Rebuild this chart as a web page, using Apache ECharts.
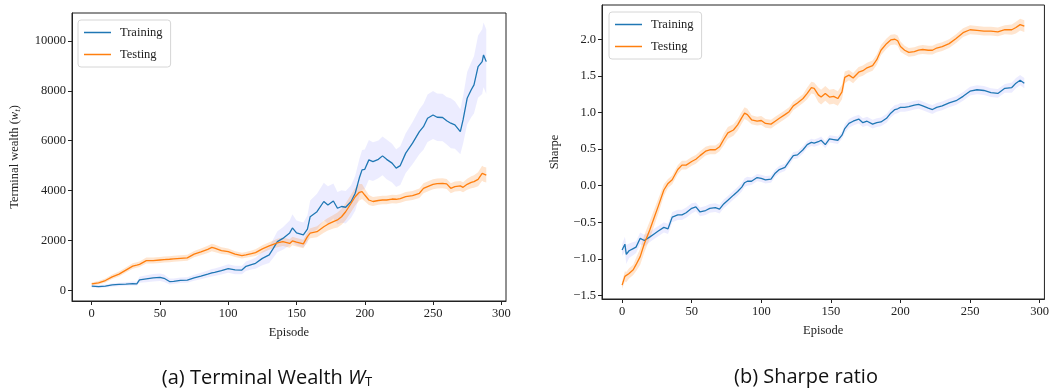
<!DOCTYPE html>
<html>
<head>
<meta charset="utf-8">
<script src="https://cdn.jsdelivr.net/npm/echarts@6/dist/echarts.min.js"></script>
<style>
  html, body { margin: 0; padding: 0; background: #fff; }
  #chart { width: 1052px; height: 392px; }
</style>
</head>
<body>
<div id="chart"></div>
<script>
// ---- (a) terminal wealth ----
const wealthEpisodes = [0, 5, 10, 15, 20, 25, 30, 33, 35, 40, 45, 50, 53, 57, 60, 65, 70, 75, 80, 85, 88, 90, 95, 100, 105, 110, 113, 117, 120, 125, 130, 133, 136, 140, 145, 147, 150, 155, 158, 160, 165, 170, 173, 177, 180, 183, 186, 190, 193, 196, 198, 200, 203, 206, 210, 213, 216, 220, 223, 226, 230, 235, 240, 243, 246, 250, 253, 257, 260, 263, 266, 270, 272, 275, 278, 280, 283, 286, 287, 289];
const wealthTrain = [170, 150, 170, 215, 235, 250, 270, 260, 420, 460, 500, 520, 480, 350, 360, 400, 410, 500, 570, 650, 700, 720, 790, 870, 815, 810, 960, 1030, 1080, 1280, 1420, 1680, 1950, 2080, 2300, 2500, 2300, 2220, 2450, 2950, 3150, 3560, 3420, 3580, 3290, 3360, 3330, 3560, 3890, 4500, 4830, 4850, 5230, 5160, 5250, 5390, 5250, 5100, 4900, 5000, 5500, 5900, 6360, 6560, 6900, 7030, 6940, 6930, 6800, 6700, 6630, 6360, 6830, 7700, 8040, 8240, 8970, 9170, 9440, 9170];
const wealthTrainSd = [60, 60, 60, 70, 70, 70, 80, 80, 120, 140, 150, 150, 150, 120, 110, 110, 110, 120, 130, 140, 150, 150, 160, 170, 170, 170, 190, 200, 220, 280, 330, 380, 420, 450, 500, 550, 500, 500, 550, 650, 720, 750, 750, 700, 650, 650, 650, 650, 700, 750, 800, 800, 800, 780, 760, 780, 800, 780, 760, 780, 800, 850, 900, 920, 950, 960, 950, 950, 950, 1000, 950, 900, 950, 1050, 1100, 1150, 1250, 1300, 1300, 1300];
const wealthTest = [254, 300, 390, 540, 650, 810, 970, 1010, 1040, 1190, 1190, 1215, 1230, 1245, 1260, 1280, 1300, 1450, 1540, 1640, 1720, 1690, 1590, 1550, 1450, 1390, 1420, 1470, 1510, 1660, 1780, 1840, 1900, 1950, 1880, 1980, 1930, 1860, 2150, 2290, 2350, 2550, 2650, 2750, 2820, 2950, 3150, 3490, 3750, 3930, 3960, 3820, 3620, 3560, 3600, 3620, 3620, 3660, 3650, 3680, 3760, 3800, 3890, 4090, 4160, 4250, 4280, 4290, 4265, 4090, 4160, 4185, 4130, 4250, 4330, 4360, 4450, 4690, 4650, 4620];
const wealthTestSd = [60, 70, 80, 90, 100, 100, 110, 110, 110, 120, 120, 120, 120, 120, 120, 120, 120, 130, 140, 150, 150, 150, 140, 130, 120, 120, 120, 130, 140, 150, 150, 160, 170, 170, 170, 170, 170, 170, 180, 200, 220, 240, 250, 270, 300, 320, 340, 350, 350, 330, 300, 250, 200, 180, 170, 170, 170, 170, 170, 170, 180, 180, 190, 200, 200, 200, 200, 200, 200, 200, 200, 200, 200, 220, 240, 250, 280, 300, 300, 300];
const wealthTicks = [0, 2000, 4000, 6000, 8000, 10000];

// ---- (b) sharpe ratio ----
const sharpeEpisodes = [0, 2, 3, 5, 8, 10, 13, 16, 20, 23, 26, 30, 33, 36, 40, 43, 46, 50, 53, 56, 60, 63, 67, 70, 73, 76, 80, 83, 86, 88, 90, 93, 97, 100, 103, 107, 110, 113, 117, 120, 123, 126, 130, 133, 136, 138, 141, 143, 146, 149, 152, 155, 158, 160, 163, 166, 170, 173, 176, 180, 183, 186, 190, 193, 196, 198, 200, 203, 206, 210, 213, 216, 220, 223, 226, 230, 235, 240, 245, 250, 255, 260, 265, 270, 275, 280, 283, 286, 289];
const sharpeTrain = [-0.88, -0.80, -0.94, -0.89, -0.86, -0.84, -0.72, -0.75, -0.70, -0.66, -0.62, -0.57, -0.59, -0.43, -0.40, -0.40, -0.37, -0.31, -0.29, -0.36, -0.34, -0.31, -0.30, -0.32, -0.25, -0.20, -0.13, -0.08, -0.02, 0.04, 0.06, 0.06, 0.11, 0.10, 0.08, 0.09, 0.17, 0.22, 0.25, 0.33, 0.41, 0.42, 0.49, 0.56, 0.59, 0.58, 0.60, 0.62, 0.56, 0.64, 0.63, 0.62, 0.69, 0.78, 0.85, 0.88, 0.91, 0.86, 0.88, 0.84, 0.86, 0.87, 0.92, 0.99, 1.04, 1.05, 1.07, 1.07, 1.08, 1.10, 1.11, 1.09, 1.06, 1.04, 1.07, 1.09, 1.13, 1.16, 1.22, 1.29, 1.31, 1.30, 1.27, 1.26, 1.33, 1.34, 1.40, 1.44, 1.40];
const sharpeTrainSd = [0.08, 0.10, 0.13, 0.10, 0.09, 0.08, 0.08, 0.08, 0.07, 0.07, 0.07, 0.07, 0.07, 0.07, 0.07, 0.07, 0.07, 0.07, 0.06, 0.06, 0.06, 0.06, 0.06, 0.06, 0.06, 0.06, 0.06, 0.06, 0.06, 0.06, 0.06, 0.05, 0.05, 0.05, 0.05, 0.05, 0.05, 0.05, 0.05, 0.05, 0.05, 0.05, 0.05, 0.05, 0.05, 0.05, 0.05, 0.05, 0.05, 0.05, 0.05, 0.05, 0.05, 0.06, 0.06, 0.06, 0.06, 0.06, 0.06, 0.06, 0.06, 0.06, 0.06, 0.06, 0.06, 0.06, 0.06, 0.06, 0.06, 0.06, 0.06, 0.06, 0.06, 0.06, 0.06, 0.06, 0.06, 0.06, 0.06, 0.06, 0.06, 0.06, 0.06, 0.06, 0.06, 0.07, 0.07, 0.07, 0.07];
const sharpeTest = [-1.36, -1.24, -1.25, -1.20, -1.15, -1.08, -0.97, -0.79, -0.60, -0.44, -0.28, -0.06, 0.03, 0.08, 0.22, 0.28, 0.28, 0.33, 0.36, 0.41, 0.47, 0.49, 0.49, 0.53, 0.63, 0.72, 0.76, 0.83, 0.93, 0.99, 0.97, 0.90, 0.88, 0.89, 0.85, 0.84, 0.88, 0.92, 0.97, 1.01, 1.09, 1.13, 1.19, 1.26, 1.34, 1.33, 1.24, 1.21, 1.26, 1.21, 1.22, 1.19, 1.28, 1.48, 1.51, 1.47, 1.55, 1.57, 1.61, 1.64, 1.72, 1.85, 1.94, 1.99, 2.00, 1.98, 1.90, 1.85, 1.82, 1.83, 1.85, 1.86, 1.85, 1.85, 1.88, 1.90, 1.94, 2.01, 2.09, 2.13, 2.12, 2.11, 2.11, 2.10, 2.13, 2.13, 2.16, 2.20, 2.18];
const sharpeTestSd = [0.05, 0.07, 0.07, 0.07, 0.07, 0.09, 0.11, 0.12, 0.12, 0.11, 0.10, 0.08, 0.06, 0.06, 0.06, 0.06, 0.06, 0.06, 0.06, 0.06, 0.06, 0.06, 0.06, 0.06, 0.08, 0.08, 0.08, 0.08, 0.08, 0.08, 0.08, 0.06, 0.06, 0.06, 0.06, 0.06, 0.06, 0.06, 0.06, 0.06, 0.06, 0.06, 0.06, 0.08, 0.08, 0.08, 0.10, 0.10, 0.10, 0.10, 0.10, 0.10, 0.10, 0.08, 0.07, 0.07, 0.07, 0.07, 0.07, 0.07, 0.07, 0.07, 0.07, 0.07, 0.07, 0.07, 0.07, 0.06, 0.06, 0.06, 0.06, 0.06, 0.06, 0.06, 0.06, 0.06, 0.06, 0.06, 0.06, 0.06, 0.06, 0.06, 0.06, 0.06, 0.06, 0.07, 0.08, 0.08, 0.08];
const sharpeTicks = [-1.5, -1.0, -0.5, 0.0, 0.5, 1.0, 1.5, 2.0];

const episodeTicks = [0, 50, 100, 150, 200, 250, 300];

const BLUE = '#1f77b4';
const ORANGE = '#ff7f0e';
const serif = 'Liberation Serif';
const capFont = 'Open Sans';

function pairs(xs, ys) {
  return xs.map((x, i) => [x, ys[i]]);
}

// shaded band mean +- sd, drawn as one polygon through the axis scales
function band(idx, xs, mean, sd, fill) {
  const rows = xs.map((x, i) => [x, mean[i] - sd[i], mean[i] + sd[i]]);
  return {
    type: 'custom', xAxisIndex: idx, yAxisIndex: idx, silent: true, z: 1,
    clip: true, data: rows, encode: { x: 0, y: [1, 2] },
    renderItem: function (params, api) {
      if (params.dataIndex !== 0) return null;
      const upper = rows.map(r => api.coord([r[0], r[2]]));
      const lower = rows.slice().reverse().map(r => api.coord([r[0], r[1]]));
      return {
        type: 'polygon',
        shape: { points: upper.concat(lower) },
        style: { fill: fill }
      };
    }
  };
}

function line(name, idx, xs, ys, color) {
  return {
    name: name, type: 'line', xAxisIndex: idx, yAxisIndex: idx,
    data: pairs(xs, ys), symbol: 'none',
    lineStyle: { color: color, width: 1.3 }, itemStyle: { color: color }, z: 3
  };
}

const tickFont = { fontFamily: serif, fontSize: 12.5, color: '#222' };
const axisLine = { show: true, onZero: false, lineStyle: { color: '#222', width: 1 } };

function xAxisFor(idx) {
  return {
    type: 'value', gridIndex: idx, min: -14.45, max: 303.45,
    name: 'Episode', nameLocation: 'middle', nameGap: 25,
    nameTextStyle: { fontFamily: serif, fontSize: 12.5, color: '#222' },
    axisLine: axisLine,
    axisTick: { show: true, length: 4, customValues: episodeTicks, lineStyle: { color: '#222' } },
    axisLabel: Object.assign({ customValues: episodeTicks, margin: 6, formatter: v => String(v) }, tickFont),
    splitLine: { show: false }
  };
}

const legendBase = {
  orient: 'vertical', data: ['Training', 'Testing'],
  icon: 'rect', itemWidth: 27, itemHeight: 1.5, itemGap: 9,
  borderColor: '#d6d6d6', borderWidth: 1, borderRadius: 3,
  padding: [6, 8, 6, 6], backgroundColor: '#fff',
  textStyle: { fontFamily: serif, fontSize: 12.5, color: '#222', padding: [0, 0, 0, 4] }
};

const option = {
  animation: false,
  title: [
    {
      text: '(a) Terminal Wealth {w|W}{s|T}', left: 262, top: 362, textAlign: 'center',
      textStyle: {
        fontFamily: capFont, fontSize: 20, fontWeight: 'normal', color: '#111',
        rich: {
          w: { fontFamily: capFont, fontSize: 20, fontStyle: 'italic', color: '#111' },
          s: { fontFamily: capFont, fontSize: 13, color: '#111', verticalAlign: 'bottom', padding: [9, 0, 0, 0] }
        }
      }
    },
    {
      text: '(b) Sharpe ratio', left: 801, top: 362, textAlign: 'center',
      textStyle: { fontFamily: capFont, fontSize: 20, fontWeight: 'normal', color: '#111' }
    }
  ],
  legend: [
    Object.assign({ left: 78, top: 20 }, legendBase),
    Object.assign({ left: 609, top: 12 }, legendBase)
  ],
  grid: [
    { left: 72, top: 13, width: 434, height: 288, show: true, borderColor: '#222', borderWidth: 1, containLabel: false },
    { left: 602, top: 5, width: 445, height: 294, show: true, borderColor: '#222', borderWidth: 1, containLabel: false }
  ],
  xAxis: [xAxisFor(0), xAxisFor(1)],
  yAxis: [
    {
      type: 'value', gridIndex: 0, min: -430, max: 11120,
      name: 'Terminal wealth ({i|w}{t|t})', nameLocation: 'middle', nameGap: 50,
      nameTextStyle: {
        fontFamily: serif, fontSize: 12.5, color: '#222',
        rich: {
          i: { fontFamily: serif, fontSize: 12.5, fontStyle: 'italic', color: '#222' },
          t: { fontFamily: serif, fontSize: 9, fontStyle: 'italic', color: '#222', verticalAlign: 'bottom', padding: [5, 0, 0, 0] }
        }
      },
      axisLine: axisLine,
      axisTick: { show: true, length: 4, customValues: wealthTicks, lineStyle: { color: '#222' } },
      axisLabel: Object.assign({ customValues: wealthTicks, margin: 6, formatter: v => String(v) }, tickFont),
      splitLine: { show: false }
    },
    {
      type: 'value', gridIndex: 1, min: -1.549, max: 2.468,
      name: 'Sharpe', nameLocation: 'middle', nameGap: 41,
      nameTextStyle: { fontFamily: serif, fontSize: 12.5, color: '#222' },
      axisLine: axisLine,
      axisTick: { show: true, length: 4, customValues: sharpeTicks, lineStyle: { color: '#222' } },
      axisLabel: Object.assign({
        customValues: sharpeTicks, margin: 6,
        formatter: v => (v < 0 ? '\u2212' : '') + Math.abs(v).toFixed(1)
      }, tickFont),
      splitLine: { show: false }
    }
  ],
  series: [
    band(0, wealthEpisodes, wealthTrain, wealthTrainSd, 'rgba(0,0,255,0.075)'),
    band(0, wealthEpisodes, wealthTest, wealthTestSd, 'rgba(255,127,14,0.2)'),
    line('Training', 0, wealthEpisodes, wealthTrain, BLUE),
    line('Testing', 0, wealthEpisodes, wealthTest, ORANGE),
    band(1, sharpeEpisodes, sharpeTrain, sharpeTrainSd, 'rgba(0,0,255,0.075)'),
    band(1, sharpeEpisodes, sharpeTest, sharpeTestSd, 'rgba(255,127,14,0.2)'),
    line('Training', 1, sharpeEpisodes, sharpeTrain, BLUE),
    line('Testing', 1, sharpeEpisodes, sharpeTest, ORANGE)
  ]
};

const chart = echarts.init(document.getElementById('chart'));
chart.setOption(option);
window.addEventListener('resize', () => chart.resize());
</script>
</body>
</html>
